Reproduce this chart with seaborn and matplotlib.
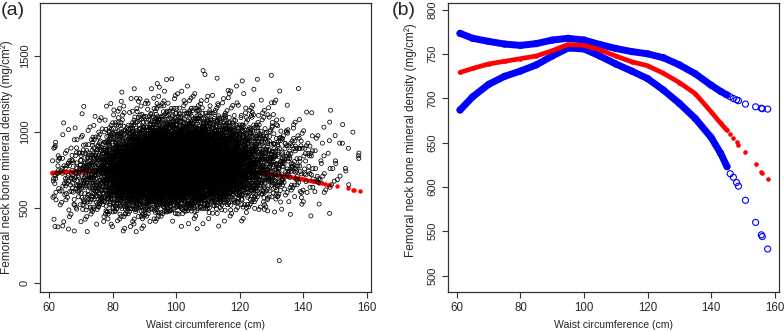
import numpy as np
import pandas as pd
import matplotlib

matplotlib.use("Agg")
import matplotlib.pyplot as plt
import seaborn as sns

# ---- panel (a): scatter cloud, read as point counts per 10 cm x 100 mg/cm2 cell
# (single points can't be read in the dense core, so each cell's count is spread
#  around the cell centre); the clearly separate outliers are listed one by one
cloud_x_edges = [60, 70, 80, 90, 100, 110, 120, 130, 140, 150]
cloud_y_edges = [1200, 1100, 1000, 900, 800, 700, 600, 500, 400, 300]
cloud_counts = [
    [0, 1, 3, 6, 7, 5, 3, 1, 0, 0],
    [0, 2, 10, 26, 30, 20, 12, 4, 1, 0],
    [1, 7, 40, 90, 95, 65, 30, 11, 3, 0],
    [5, 25, 130, 260, 260, 170, 75, 25, 7, 0],
    [13, 65, 240, 420, 410, 260, 115, 40, 12, 2],
    [28, 100, 300, 470, 450, 280, 130, 48, 14, 3],
    [24, 90, 260, 390, 350, 200, 95, 32, 9, 2],
    [15, 55, 130, 160, 125, 75, 35, 11, 2, 0],
    [7, 16, 26, 18, 12, 7, 4, 1, 1, 0],
    [3, 3, 5, 1, 0, 0, 0, 0, 0, 0],
]
outlier_x = [97.0, 98.6, 108.5, 109.1, 112.9, 125.6, 130.0, 94.7, 82.9, 116.4, 124.5,
             132.5, 155.7, 157.6]
outlier_y = [1344, 1349, 1403, 1377, 1353, 1346, 1372, 1294, 1261, 1272, 1280,
             150, 997, 859]

# ---- fitted curve and 95% CI (same x for all three)
fit_x = [61, 65, 70, 75, 80, 85, 90, 95, 100, 105, 110, 115, 120, 125, 130,
         135, 140, 143, 145, 146, 147, 148, 148.6, 150.8, 154, 155.8, 156.1, 157.8]
fit_y = [729.5, 734, 739, 742, 745, 748, 754, 761, 760, 755, 748, 741.5, 737, 728.5, 718,
         705.5, 685, 672, 664, 660, 655, 651, 648, 639, 626, 617, 616, 609]
ci_upper = [773.6, 768, 764.5, 761.5, 760, 762, 766, 768, 766, 761, 756.5, 753, 750.5, 746, 738,
            728, 715, 708, 704, 702, 700, 698.5, 697.5, 693.7, 690.6, 689, 688.5, 688]
ci_lower = [687, 702, 716, 725, 731, 738, 748, 757, 756, 748, 739, 731, 722.5, 709.5, 694.5,
            677.5, 656, 638, 623, 615, 611, 605, 601, 585, 560, 546, 544, 530]

x_label = "Waist circumference (cm)"
y_label = "Femoral neck bone mineral density (mg/cm²)"

sns.set_style("white")
plt.rcParams["font.family"] = ["Liberation Sans", "DejaVu Sans"]

# spread each cell's count with a triangular kernel, using a 4-d Kronecker sequence
phi4 = 1.1673039782614187
alpha = np.array([1 / phi4 ** (i + 1) for i in range(4)])
pts_x, pts_y = list(outlier_x), list(outlier_y)
k0 = 0
for i, ylo in enumerate(cloud_y_edges):
    for j, xlo in enumerate(cloud_x_edges):
        n = cloud_counts[i][j]
        k = np.arange(k0 + 1, k0 + n + 1)
        k0 += n
        u = (0.5 + k[:, None] * alpha) % 1
        xs = xlo + 5 + (u[:, 0] + u[:, 1] - 1) * 10
        ys = ylo + 50 + (u[:, 2] + u[:, 3] - 1) * 100
        xs = np.where(xs < 61, 122 - xs, xs)
        xs = np.where(xs > 158, 316 - xs, xs)
        ys = np.where(ys < 335, 670 - ys, ys)
        pts_x.extend(xs)
        pts_y.extend(ys)
cloud = pd.DataFrame({"x": pts_x, "y": pts_y})

fit = pd.DataFrame({"x": fit_x, "fit": fit_y, "upper": ci_upper, "lower": ci_lower})
dense = fit[fit["x"] <= 145]

fig = plt.figure(figsize=(7.84, 3.32), dpi=100)
ax_a = fig.add_axes([0.0510, 0.1205, 0.4222, 0.8705])
ax_b = fig.add_axes([0.5714, 0.1205, 0.4222, 0.8705])

# (a)
sns.lineplot(data=dense, x="x", y="fit", ax=ax_a, color="#ff0000", lw=3.0,
             estimator=None, sort=False, zorder=1)
sns.scatterplot(data=fit, x="x", y="fit", ax=ax_a, color="#ff0000", s=10,
                linewidth=0, zorder=1)
sns.scatterplot(data=cloud, x="x", y="y", ax=ax_a, marker="o", s=8.5,
                facecolor="none", edgecolor="black", linewidth=0.55, zorder=2)
ax_a.set_xlim(57.1, 161.4)
ax_a.set_ylim(-57, 1849)
ax_a.set_xticks([60, 80, 100, 120, 140, 160])
ax_a.set_yticks([0, 500, 1000, 1500])

# (b)
for col in ["upper", "lower"]:
    sns.lineplot(data=dense, x="x", y=col, ax=ax_b, color="#0000ff", lw=5.0,
                 estimator=None, sort=False)
    sns.scatterplot(data=fit, x="x", y=col, ax=ax_b, marker="o", s=19,
                    facecolor="none", edgecolor="#0000ff", linewidth=0.8)
sns.lineplot(data=dense, x="x", y="fit", ax=ax_b, color="#ff0000", lw=3.4,
             estimator=None, sort=False)
sns.scatterplot(data=fit, x="x", y="fit", ax=ax_b, color="#ff0000", s=11, linewidth=0)
ax_b.set_xlim(57.2, 161.35)
ax_b.set_ylim(481.4, 807.9)
ax_b.set_xticks([60, 80, 100, 120, 140, 160])
ax_b.set_yticks([500, 550, 600, 650, 700, 750, 800])

for ax, ylx, yly in [(ax_a, -0.082, 0.465), (ax_b, -0.094, 0.526)]:
    for s in ax.spines.values():
        s.set_visible(True)
        s.set_color("#333333")
        s.set_linewidth(0.9)
    ax.tick_params(axis="both", direction="out", length=4.3, width=0.8,
                   color="#333333", labelsize=8, pad=3, bottom=True, left=True)
    ax.tick_params(axis="x", labelsize=8.3)
    ax.tick_params(axis="y", labelrotation=90)
    for lab in ax.get_yticklabels():
        lab.set_va("center")
    ax.set_xlabel(x_label, fontsize=7.6)
    ax.set_ylabel(y_label, fontsize=8.5)
    ax.xaxis.set_label_coords(0.5, -0.097)
    ax.yaxis.set_label_coords(ylx, yly)

fig.text(0.001, 0.995, "(a)", fontsize=14, va="top", ha="left")
fig.text(0.5, 0.995, "(b)", fontsize=14, va="top", ha="left")

fig.savefig("out.png", dpi=100)
